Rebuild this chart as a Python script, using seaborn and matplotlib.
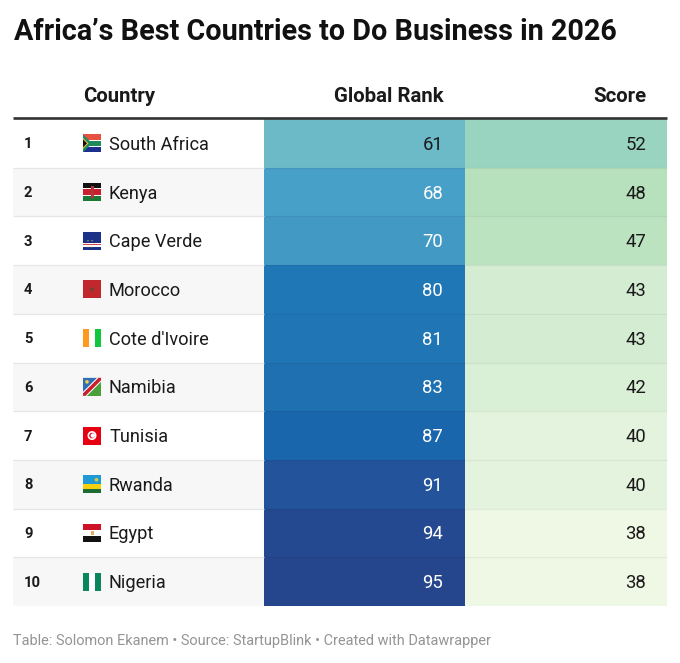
import numpy as np
import pandas as pd
import matplotlib
matplotlib.use("Agg")
import matplotlib.pyplot as plt
from matplotlib.colors import LinearSegmentedColormap
from matplotlib.patches import Rectangle, Polygon, Circle
import seaborn as sns

countries = ["South Africa", "Kenya", "Cape Verde", "Morocco", "Cote d'Ivoire",
             "Namibia", "Tunisia", "Rwanda", "Egypt", "Nigeria"]
ranks = [61, 68, 70, 80, 81, 83, 87, 91, 94, 95]
scores = [52, 48, 47, 43, 43, 42, 40, 40, 38, 38]

W, H = 680, 663
LEFT, RIGHT = 13, 667
TOP, BOTTOM = 119, 606
MID1, MID2 = 264, 465
ROW = (BOTTOM - TOP) / len(countries)

sns.set_theme(style="white")
plt.rcParams["font.family"] = ["Roboto", "DejaVu Sans"]
plt.rcParams["patch.edgecolor"] = "none"
plt.rcParams["patch.linewidth"] = 0

rank_cmap = LinearSegmentedColormap.from_list("rank", [
    (0.0, "#6cb9c8"), (7 / 34, "#47a0c8"), (9 / 34, "#4299c4"), (19 / 34, "#2077b6"),
    (22 / 34, "#1f70b0"), (26 / 34, "#1a66ac"), (30 / 34, "#22539b"), (1.0, "#25468d")])
score_cmap = LinearSegmentedColormap.from_list("score", [
    (0.0, "#eff7e5"), (2 / 14, "#e3f3dd"), (4 / 14, "#d9efd6"), (5 / 14, "#d4ecd2"),
    (9 / 14, "#bce3c0"), (10 / 14, "#b7e1bc"), (1.0, "#98d4c0")])


def px_axes(x0, y0, x1, y1):
    return fig.add_axes([x0 / W, 1 - y1 / H, (x1 - x0) / W, (y1 - y0) / H])


fig = plt.figure(figsize=(W / 100, H / 100), dpi=100, facecolor="white")

# rows and text live on one axes in pixel coordinates
bg = px_axes(0, 0, W, H)
bg.set_xlim(0, W)
bg.set_ylim(H, 0)
bg.axis("off")

for i in range(len(countries)):
    if i % 2 == 1:
        bg.add_patch(Rectangle((LEFT, TOP + i * ROW), MID1 - LEFT, ROW, fc="#f7f7f7", ec="none"))

ax1 = px_axes(MID1, TOP, MID2, BOTTOM)
ax2 = px_axes(MID2, TOP, RIGHT, BOTTOM)
df = pd.DataFrame({"Global Rank": ranks, "Score": scores}, index=countries)
sns.heatmap(df[["Global Rank"]], ax=ax1, cmap=rank_cmap, vmin=61, vmax=95, cbar=False,
            xticklabels=False, yticklabels=False)
sns.heatmap(df[["Score"]], ax=ax2, cmap=score_cmap, vmin=38, vmax=52, cbar=False,
            xticklabels=False, yticklabels=False)
ax1.set(xlabel="", ylabel="")
ax2.set(xlabel="", ylabel="")

fg = px_axes(0, 0, W, H)
fg.set_xlim(0, W)
fg.set_ylim(H, 0)
fg.axis("off")
fg.patch.set_alpha(0)

for i in range(1, len(countries)):
    y = TOP + i * ROW
    fg.plot([LEFT, MID1], [y, y], color="#e6e6e6", lw=0.9, solid_capstyle="butt")
    fg.plot([MID1, RIGHT], [y, y], color="#000000", alpha=0.05, lw=0.9, solid_capstyle="butt")
fg.plot([LEFT, RIGHT], [118, 118], color="#333333", lw=1.9, solid_capstyle="butt")


def stripes_h(x, y, colors, heights=None):
    heights = heights or [1 / len(colors)] * len(colors)
    yy = y
    for c, h in zip(colors, heights):
        fg.add_patch(Rectangle((x, yy), 18, 18 * h, fc=c, ec="none"))
        yy += 18 * h


def stripes_v(x, y, colors):
    for j, c in enumerate(colors):
        fg.add_patch(Rectangle((x + j * 6, y), 6, 18, fc=c, ec="none"))


def flag(name, x, y):
    if name == "South Africa":
        stripes_h(x, y, ["#e8503f", "#ffffff", "#1f8a5b", "#ffffff", "#1c2f8f"], [.3, .08, .24, .08, .3])
        fg.add_patch(Polygon([(x, y), (x + 9, y + 9), (x, y + 18)], fc="#1f8a5b", ec="none"))
        fg.add_patch(Polygon([(x, y + 3.5), (x + 5.5, y + 9), (x, y + 14.5)], fc="#f6c244", ec="none"))
        fg.add_patch(Polygon([(x, y + 5), (x + 4, y + 9), (x, y + 13)], fc="#111111", ec="none"))
    elif name == "Kenya":
        stripes_h(x, y, ["#111111", "#ffffff", "#c8202c", "#ffffff", "#1a7a35"], [.3, .05, .3, .05, .3])
        fg.add_patch(Rectangle((x + 7.5, y + 3), 3, 12, fc="#b8323a", ec="none"))
    elif name == "Cape Verde":
        stripes_h(x, y, ["#1c3286", "#ffffff", "#d6424a", "#ffffff", "#1c3286"], [.62, .07, .07, .07, .17])
        for a in np.radians([0, 60, 120, 180, 240, 300]):
            fg.add_patch(Circle((x + 7 + 4 * np.cos(a), y + 12 + 3.5 * np.sin(a)), 0.6, fc="#e8d25a", ec="none"))
    elif name == "Morocco":
        stripes_h(x, y, ["#c1272d"])
        fg.add_patch(Circle((x + 9, y + 9), 2.2, fc="#7a4030", ec="none"))
    elif name == "Cote d'Ivoire":
        stripes_v(x, y, ["#ff9a1f", "#ffffff", "#12c73c"])
    elif name == "Namibia":
        fg.add_patch(Polygon([(x, y), (x + 18, y), (x, y + 18)], fc="#2f6fb5", ec="none"))
        fg.add_patch(Polygon([(x + 18, y), (x + 18, y + 18), (x, y + 18)], fc="#4aa03a", ec="none"))
        fg.add_patch(Polygon([(x, y + 14), (x + 14, y), (x + 18, y), (x + 18, y + 4), (x + 4, y + 18), (x, y + 18)], fc="#ffffff", ec="none"))
        fg.add_patch(Polygon([(x, y + 15.5), (x + 15.5, y), (x + 18, y), (x + 18, y + 2.5), (x + 2.5, y + 18), (x, y + 18)], fc="#c8202c", ec="none"))
        fg.add_patch(Circle((x + 4, y + 4), 1.8, fc="#f4cf4e", ec="none"))
    elif name == "Tunisia":
        stripes_h(x, y, ["#e70013"])
        fg.add_patch(Circle((x + 9, y + 9), 4.5, fc="#ffffff", ec="none"))
        fg.add_patch(Circle((x + 9, y + 9), 2.8, fc="#e70013", ec="none"))
        fg.add_patch(Circle((x + 9.8, y + 9), 2.2, fc="#ffffff", ec="none"))
    elif name == "Rwanda":
        stripes_h(x, y, ["#1f9ad6", "#f5d10d", "#1f6b34"], [.5, .25, .25])
        fg.add_patch(Circle((x + 13.5, y + 4.5), 1.8, fc="#d8cf3a", ec="none"))
    elif name == "Egypt":
        stripes_h(x, y, ["#ce1126", "#ffffff", "#111111"])
        fg.add_patch(Rectangle((x + 7.5, y + 7), 3, 4, fc="#e0b060", ec="none"))
    elif name == "Nigeria":
        stripes_v(x, y, ["#07875a", "#ffffff", "#07875a"])


ink = "#1a1a1a"
for i, c in enumerate(countries):
    yc = TOP + (i + 0.5) * ROW
    fg.text(24, yc + 1, str(i + 1), fontsize=10.6, fontweight="bold", color=ink, va="center", ha="left")
    flag(c, 83, yc - 9)
    fg.text(109, yc + 1.5, c, fontsize=13.1, color=ink, va="center", ha="left")
    # white numbers on the darker blues, same as the reference
    fg.text(443, yc + 1.5, str(ranks[i]), fontsize=13.3, va="center", ha="right",
            color="#1a1a1a" if ranks[i] < 65 else "white")
    fg.text(646, yc + 1.5, str(scores[i]), fontsize=13.3, color=ink, va="center", ha="right")

fg.text(83, 96, "Country", fontsize=14.7, fontweight="bold", color=ink, va="center", ha="left")
fg.text(444, 96, "Global Rank", fontsize=14.7, fontweight="bold", color=ink, va="center", ha="right")
fg.text(646, 96, "Score", fontsize=14.7, fontweight="bold", color=ink, va="center", ha="right")
fg.text(14, 31.5, "Africa\u2019s Best Countries to Do Business in 2026", fontsize=20.7,
        fontweight="bold", color="#111111", va="center", ha="left")
fg.text(13, 641.5, "Table: Solomon Ekanem \u2022 Source: StartupBlink \u2022 Created with Datawrapper",
        fontsize=10.45, color="#949494", va="center", ha="left")

fig.savefig("out.png", dpi=100)
